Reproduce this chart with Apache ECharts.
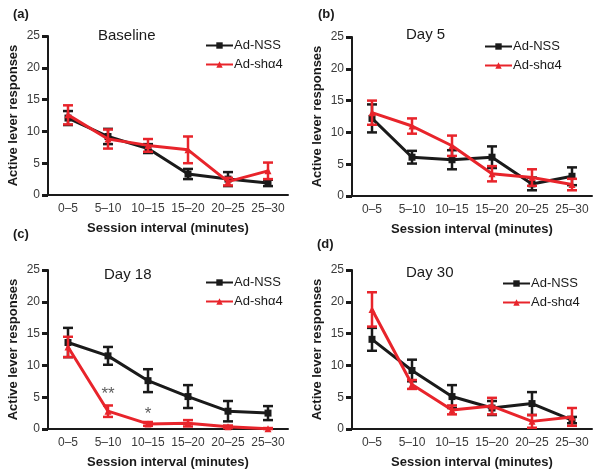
<!DOCTYPE html>
<html><head><meta charset="utf-8">
<script src="https://cdn.jsdelivr.net/npm/echarts@6/dist/echarts.min.js"></script>
<style>html,body{margin:0;padding:0;background:#fff}#c{width:601px;height:473px}</style>
</head><body><div id="c"></div>
<script>
const categories = ['0–5', '5–10', '10–15', '15–20', '20–25', '25–30'];
const yTicks = [0, 5, 10, 15, 20, 25];

const baselineNSS = [12.1, 9.2, 7.3, 3.3, 2.5, 1.9];
const baselineNSSErr = [1.1, 1.2, 0.7, 0.8, 1.1, 0.5];
const baselineSh = [12.6, 8.8, 7.8, 7.1, 2.1, 3.8];
const baselineShErr = [1.5, 1.5, 1.0, 2.1, 0.6, 1.3];

const day5NSS = [12.2, 6.1, 5.7, 6.1, 1.9, 3.1];
const day5NSSErr = [2.2, 1.0, 1.5, 1.7, 1.0, 1.4];
const day5Sh = [13.1, 11.0, 7.9, 3.5, 2.9, 1.8];
const day5ShErr = [1.9, 1.2, 1.6, 1.2, 1.3, 0.9];

const day18NSS = [13.6, 11.5, 7.6, 5.1, 2.8, 2.5];
const day18NSSErr = [2.3, 1.4, 1.8, 1.8, 1.6, 1.1];
const day18Sh = [12.9, 2.8, 0.8, 0.9, 0.35, 0.05];
const day18ShErr = [1.6, 0.9, 0.3, 0.5, 0.2, 0.1];

const day30NSS = [14.1, 9.2, 5.1, 3.3, 4.0, 1.4];
const day30NSSErr = [1.8, 1.7, 1.8, 1.1, 1.8, 0.5];
const day30Sh = [18.8, 7.0, 3.0, 3.6, 1.2, 1.9];
const day30ShErr = [2.7, 0.7, 0.7, 1.3, 1.0, 1.4];

const panelTitles = ['Baseline', 'Day 5', 'Day 18', 'Day 30'];
const panelLetters = ['(a)', '(b)', '(c)', '(d)'];

// significance marks in panel (c)
const sigCategories = ['5–10', '10–15'];
const sigLevels = [5.5, 2.3];
const sigLabels = ['**', '*'];

const seriesNames = ['Ad-NSS', 'Ad-shα4'];
const FONT = 'Liberation Sans, Arial, sans-serif';
const BLACK = '#1a1a1a', RED = '#e8242b';

const panelData = [
  [baselineNSS, baselineNSSErr, baselineSh, baselineShErr],
  [day5NSS, day5NSSErr, day5Sh, day5ShErr],
  [day18NSS, day18NSSErr, day18Sh, day18ShErr],
  [day30NSS, day30NSSErr, day30Sh, day30ShErr]
];

const grids = [
  {left: 48, top: 36, width: 240, height: 159},
  {left: 352, top: 37, width: 240, height: 159},
  {left: 48, top: 270, width: 240, height: 159},
  {left: 352, top: 270, width: 240, height: 159}
];
const titlePos = [[98, 28], [406, 27], [104, 267], [406, 265]];
const letterPos = [[13, 8], [318, 8], [13, 228], [317, 238]];
const legendPos = [[205, 39], [484, 40], [205, 276], [502, 277]];

function errSeries(i, means, errs, color, name) {
  return {
    type: 'custom', name: name, xAxisIndex: i, yAxisIndex: i, z: color === RED ? 4 : 2,
    data: means.map((m, k) => [k, m, errs[k]]),
    encode: {x: 0, y: 1},
    renderItem: function (params, api) {
      const x = api.value(0), m = api.value(1), e = api.value(2);
      const t = api.coord([x, m + e]);
      const b = api.coord([x, Math.max(0, m - e)]);
      const w = 5;
      const st = {stroke: color, lineWidth: 2.5};
      return {type: 'group', children: [
        {type: 'line', shape: {x1: t[0], y1: t[1], x2: b[0], y2: b[1]}, style: st},
        {type: 'line', shape: {x1: t[0] - w, y1: t[1], x2: t[0] + w, y2: t[1]}, style: st},
        {type: 'line', shape: {x1: b[0] - w, y1: b[1], x2: b[0] + w, y2: b[1]}, style: st}
      ]};
    }
  };
}

const xAxes = [], yAxes = [], series = [], titles = [], legends = [];
for (let i = 0; i < 4; i++) {
  xAxes.push({
    gridIndex: i, type: 'category', data: categories, boundaryGap: true,
    axisLine: {lineStyle: {color: BLACK, width: 2}},
    axisTick: {alignWithLabel: true, length: 6, lineStyle: {width: 3, color: BLACK}},
    axisLabel: {interval: 0, fontSize: 12, color: '#3a3a3a', margin: 8, fontFamily: FONT},
    name: 'Session interval (minutes)', nameLocation: 'middle', nameGap: 27,
    nameTextStyle: {fontSize: 13, fontWeight: 'bold', color: BLACK, fontFamily: FONT}
  });
  yAxes.push({
    gridIndex: i, type: 'value', min: yTicks[0], max: yTicks[yTicks.length - 1], interval: yTicks[1] - yTicks[0],
    splitLine: {show: false},
    axisLine: {show: true, lineStyle: {color: BLACK, width: 2}},
    axisTick: {show: true, length: 6, lineStyle: {width: 3, color: BLACK}},
    axisLabel: {fontSize: 12, color: '#3a3a3a', margin: 8, fontFamily: FONT},
    name: 'Active lever responses', nameLocation: 'middle', nameGap: 28, nameRotate: 90,
    nameTextStyle: {fontSize: 13, fontWeight: 'bold', color: BLACK, fontFamily: FONT}
  });
  const [nss, nssErr, sh, shErr] = panelData[i];
  series.push(errSeries(i, nss, nssErr, BLACK, 'errN' + i));
  series.push({
    type: 'line', name: seriesNames[0], xAxisIndex: i, yAxisIndex: i, data: nss, z: 3,
    symbol: 'rect', symbolSize: 7, lineStyle: {color: BLACK, width: 3},
    itemStyle: {color: BLACK}, animation: false
  });
  series.push(errSeries(i, sh, shErr, RED, 'errS' + i));
  series.push({
    type: 'line', name: seriesNames[1], xAxisIndex: i, yAxisIndex: i, data: sh, z: 5,
    symbol: 'triangle', symbolSize: 7, lineStyle: {color: RED, width: 3},
    itemStyle: {color: RED}, animation: false
  });
  titles.push({text: panelTitles[i], left: titlePos[i][0], top: titlePos[i][1],
    textStyle: {fontSize: 15, fontWeight: 'normal', color: BLACK, fontFamily: FONT}, padding: 0});
  titles.push({text: panelLetters[i], left: letterPos[i][0], top: letterPos[i][1],
    textStyle: {fontSize: 13, fontWeight: 'bold', color: BLACK, fontFamily: FONT}, padding: 0});
  legends.push({
    data: seriesNames, orient: 'vertical', left: legendPos[i][0], top: legendPos[i][1],
    itemWidth: 27, itemHeight: 8, itemGap: 6, padding: 0, selectedMode: false,
    textStyle: {fontSize: 13, color: BLACK, fontFamily: FONT, padding: [0, 0, 0, -4]}
  });
}

series.push({
  type: 'scatter', name: 'sig', xAxisIndex: 2, yAxisIndex: 2, symbolSize: 0,
  data: sigCategories.map((c, k) => ({value: [c, sigLevels[k]], label: {formatter: sigLabels[k]}})),
  label: {show: true, position: 'inside', fontSize: 17, color: '#333', fontFamily: FONT},
  silent: true
});

const chart = echarts.init(document.getElementById('c'), null, {renderer: 'canvas'});
chart.setOption({
  animation: false,
  backgroundColor: '#fff',
  title: titles,
  legend: legends,
  grid: grids,
  xAxis: xAxes,
  yAxis: yAxes,
  series: series
});
</script></body></html>
